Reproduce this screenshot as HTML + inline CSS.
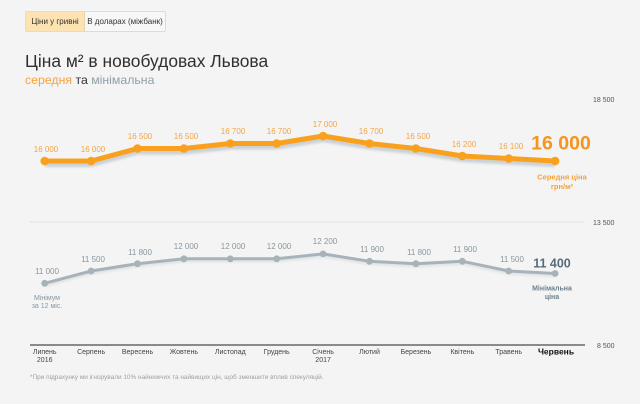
<!DOCTYPE html>
<html><head><meta charset="utf-8"><style>
html,body{margin:0;padding:0;background:#f4f4f4;}
body{width:640px;height:404px;overflow:hidden;position:relative;font-family:"Liberation Sans","DejaVu Sans",sans-serif;}
.btns{position:absolute;left:25px;top:11px;width:139px;height:19px;border:1px solid #dcdcdc;border-radius:2px;overflow:hidden;font-size:8px;color:#333;}
.b1{position:absolute;left:0;top:0;width:58px;height:19px;background:#fde2b2;line-height:19px;text-align:center;border-right:1px solid #e6d2ad;}
.b2{position:absolute;left:59px;top:0;width:80px;height:19px;background:#f7f7f7;line-height:19px;text-align:center;}
.title{position:absolute;left:25px;top:51px;font-size:17.4px;color:#2f2f2f;white-space:nowrap;}
.sub{position:absolute;left:25px;top:72.5px;font-size:12.3px;white-space:nowrap;color:#333;}
</style></head><body>
<div class="btns"><div class="b1">Ціни у гривні</div><div class="b2">В доларах (міжбанк)</div></div>
<div class="title">Ціна м² в новобудовах Львова</div>
<div class="sub"><span style="color:#f5a23a">середня</span> та <span style="color:#8fa0aa">мінімальна</span></div>
<svg width="640" height="404" style="position:absolute;left:0;top:0" xmlns="http://www.w3.org/2000/svg" font-family="Liberation Sans, DejaVu Sans, sans-serif">
<defs><filter id="bl" x="-5%" y="-50%" width="110%" height="200%"><feGaussianBlur stdDeviation="1.2"/></filter></defs>
<line x1="30" y1="222" x2="584" y2="222" stroke="#e4e4e4" stroke-width="1.2"/>
<line x1="30" y1="345" x2="585" y2="345" stroke="#666" stroke-width="1.5"/>
<g font-size="7" fill="#555">
<text x="593" y="102">18 500</text>
<text x="593" y="225">13 500</text>
<text x="597" y="348">8 500</text>
</g>
<polyline filter="url(#bl)" fill="none" stroke="#c9d0d6" stroke-width="5" stroke-linejoin="round" points="44.7,164.5 91.1,164.5 137.5,152 183.9,152 230.3,147 276.7,147 323.1,139.5 369.5,147 415.9,152 462.3,159.5 508.7,162 555.1,164.5"/>
<polyline fill="none" stroke="#f9a11f" stroke-width="5" stroke-linejoin="round" points="44.7,161 91.1,161 137.5,148.5 183.9,148.5 230.3,143.5 276.7,143.5 323.1,136 369.5,143.5 415.9,148.5 462.3,156 508.7,158.5 555.1,161"/>
<g fill="#f9a11f">
<circle cx="44.7" cy="161" r="4.3"/><circle cx="91.1" cy="161" r="4.3"/><circle cx="137.5" cy="148.5" r="4.3"/><circle cx="183.9" cy="148.5" r="4.3"/><circle cx="230.3" cy="143.5" r="4.3"/><circle cx="276.7" cy="143.5" r="4.3"/><circle cx="323.1" cy="136" r="4.3"/><circle cx="369.5" cy="143.5" r="4.3"/><circle cx="415.9" cy="148.5" r="4.3"/><circle cx="462.3" cy="156" r="4.3"/><circle cx="508.7" cy="158.5" r="4.3"/><circle cx="555.1" cy="161" r="4.3"/>
</g>
<g font-size="8" fill="#f3a544" text-anchor="middle">
<text x="46" y="152">16 000</text><text x="93" y="152">16 000</text><text x="140" y="139">16 500</text><text x="186" y="139">16 500</text><text x="233" y="134">16 700</text><text x="279" y="134">16 700</text><text x="325" y="127">17 000</text><text x="371" y="134">16 700</text><text x="418" y="139">16 500</text><text x="464" y="147">16 200</text><text x="511" y="149">16 100</text>
</g>
<text x="561" y="149.5" font-size="19.5" font-weight="bold" fill="#f7941d" text-anchor="middle">16 000</text>
<text x="562" y="179.5" font-size="7.5" font-weight="bold" fill="#f3a137" text-anchor="middle">Середня ціна</text>
<text x="562" y="189" font-size="7.5" font-weight="bold" fill="#f3a137" text-anchor="middle">грн/м²</text>
<polyline filter="url(#bl)" fill="none" stroke="#dde1e4" stroke-width="3" stroke-linejoin="round" points="44.7,285.3 91.1,273 137.5,265.7 183.9,260.8 230.3,260.8 276.7,260.8 323.1,255.9 369.5,263.3 415.9,265.7 462.3,263.3 508.7,273 555.1,275.5"/>
<polyline fill="none" stroke="#a7b3b9" stroke-width="3" stroke-linejoin="round" points="44.7,283.3 91.1,271 137.5,263.7 183.9,258.8 230.3,258.8 276.7,258.8 323.1,253.9 369.5,261.3 415.9,263.7 462.3,261.3 508.7,271 555.1,273.5"/>
<g fill="#a7b3b9">
<circle cx="44.7" cy="283.3" r="3.4"/><circle cx="91.1" cy="271" r="3.4"/><circle cx="137.5" cy="263.7" r="3.4"/><circle cx="183.9" cy="258.8" r="3.4"/><circle cx="230.3" cy="258.8" r="3.4"/><circle cx="276.7" cy="258.8" r="3.4"/><circle cx="323.1" cy="253.9" r="3.4"/><circle cx="369.5" cy="261.3" r="3.4"/><circle cx="415.9" cy="263.7" r="3.4"/><circle cx="462.3" cy="261.3" r="3.4"/><circle cx="508.7" cy="271" r="3.4"/><circle cx="555.1" cy="273.5" r="3.4"/>
</g>
<g font-size="8" fill="#8a969d" text-anchor="middle">
<text x="47" y="274">11 000</text><text x="93" y="262">11 500</text><text x="140" y="255">11 800</text><text x="186" y="249">12 000</text><text x="233" y="249">12 000</text><text x="279" y="249">12 000</text><text x="325" y="244">12 200</text><text x="372" y="252">11 900</text><text x="419" y="255">11 800</text><text x="465" y="252">11 900</text><text x="512" y="262">11 500</text>
</g>
<text x="552" y="267.5" font-size="12.5" font-weight="bold" fill="#5a6b78" text-anchor="middle">11 400</text>
<text x="552" y="290.5" font-size="7" font-weight="bold" fill="#6c808d" text-anchor="middle">Мінімальна</text>
<text x="552" y="299" font-size="7" font-weight="bold" fill="#6c808d" text-anchor="middle">ціна</text>
<text x="47" y="300" font-size="7" fill="#8597a3" text-anchor="middle">Мінімум</text>
<text x="47" y="308" font-size="7" fill="#8597a3" text-anchor="middle">за 12 міс.</text>
<g font-size="7" fill="#444" text-anchor="middle">
<text x="44.7" y="354">Липень</text><text x="44.7" y="362">2016</text>
<text x="91.1" y="354">Серпень</text>
<text x="137.5" y="354">Вересень</text>
<text x="183.9" y="354">Жовтень</text>
<text x="230.3" y="354">Листопад</text>
<text x="276.7" y="354">Грудень</text>
<text x="323.1" y="354">Січень</text><text x="323.1" y="362">2017</text>
<text x="369.5" y="354">Лютий</text>
<text x="415.9" y="354">Березень</text>
<text x="462.3" y="354">Квітень</text>
<text x="508.7" y="354">Травень</text>
</g>
<text x="556" y="354.5" font-size="8.5" font-weight="bold" fill="#111" text-anchor="middle">Червень</text>
<text x="30" y="379" font-size="6.45" fill="#a0a0a0">*При підрахунку ми ігнорували 10% найнижчих та найвищих цін, щоб зменшити вплив спекуляцій.</text>
</svg>
</body></html>
